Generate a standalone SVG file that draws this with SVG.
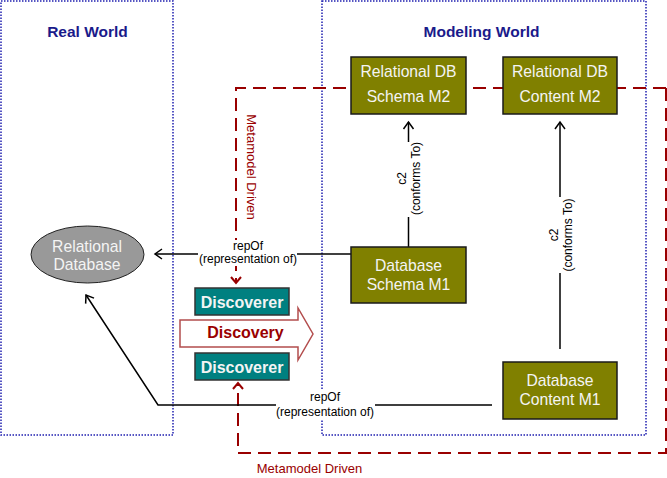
<svg xmlns="http://www.w3.org/2000/svg" width="667" height="478" viewBox="0 0 667 478">
<defs>
<style>
text{font-family:"Liberation Sans",Arial,sans-serif}
.world{fill:none;stroke:#1f1fb0;stroke-width:1.5;stroke-dasharray:1.5,1.5}
.title{font-size:15.5px;font-weight:bold;fill:#1a1a8a;text-anchor:middle}
.olive{fill:#808000;stroke:#1a1a1a;stroke-width:1.5}
.oltext{font-size:15.7px;fill:#f4f4f4;text-anchor:middle}
.teal{fill:#008080;stroke:#333;stroke-width:1.5}
.tltext{font-size:16px;font-weight:bold;fill:#f4f4f4;text-anchor:middle}
.conn{fill:none;stroke:#000;stroke-width:1.5}
.red{fill:none;stroke:#990000;stroke-width:2;stroke-dasharray:13,7}
.lbl{font-size:12px;fill:#000;text-anchor:middle}
.redlbl{font-size:13px;fill:#990000;text-anchor:middle}
.bg{fill:#fff;stroke:none}
</style>
<marker id="ah" markerUnits="userSpaceOnUse" markerWidth="20" markerHeight="20" refX="0" refY="0" viewBox="-10 -10 20 20" orient="auto" overflow="visible">
<path d="M-7,-5 L0,0 L-7,5" fill="none" stroke="#000" stroke-width="1.5"/>
</marker>
<marker id="ahr" markerUnits="userSpaceOnUse" markerWidth="20" markerHeight="20" refX="0" refY="0" viewBox="-10 -10 20 20" orient="auto" overflow="visible">
<path d="M-6,-5 L0,0 L-6,5" fill="none" stroke="#990000" stroke-width="2"/>
</marker>
</defs>
<rect x="0" y="0" width="667" height="478" fill="#fff"/>

<g id="real-world">
<rect class="world" x="1" y="1" width="172" height="434"/>
<text class="title" x="87.5" y="37">Real World</text>
</g>
<g id="modeling-world">
<rect class="world" x="322" y="1" width="324" height="434"/>
<text class="title" x="481.5" y="37">Modeling World</text>
</g>

<g id="connectors">
<path class="red" d="M666,88 L236,88 L236,283" marker-end="url(#ahr)"/>
<path class="red" d="M666,88 L666,453 L238,453 L238,383" marker-end="url(#ahr)"/>
<path class="conn" d="M351,254 L155,254" marker-end="url(#ah)"/>
<path class="conn" d="M492,405 L158,405 L86,295" marker-end="url(#ah)"/>
<path class="conn" d="M408.5,247 L408.5,122" marker-end="url(#ah)"/>
<path class="conn" d="M560,349 L560,122" marker-end="url(#ah)"/>
<rect class="bg" x="198" y="240" width="99" height="26"/>
<text class="lbl" x="248" y="250">repOf</text>
<text class="lbl" x="248" y="263">(representation of)</text>
<rect class="bg" x="276" y="389" width="99" height="30"/>
<text class="lbl" x="325" y="401">repOf</text>
<text class="lbl" x="325" y="415.5">(representation of)</text>
<rect class="bg" x="396" y="142" width="28" height="75"/>
<g transform="translate(0,178.5) rotate(-90)">
<text class="lbl" x="0" y="406">c2</text>
<text class="lbl" x="0" y="420">(conforms To)</text>
</g>
<rect class="bg" x="547" y="197" width="28" height="76"/>
<g transform="translate(0,235) rotate(-90)">
<text class="lbl" x="0" y="557.5">c2</text>
<text class="lbl" x="0" y="571.5">(conforms To)</text>
</g>
<text class="redlbl" transform="translate(247,167) rotate(90)" x="0" y="0">Metamodel Driven</text>
<text class="redlbl" x="309.5" y="473">Metamodel Driven</text>
</g>

<g id="relational-database">
<ellipse cx="87.5" cy="254.5" rx="56.5" ry="28.5" fill="#999" stroke="#222" stroke-width="1"/>
<text class="oltext" x="87" y="251.5">Relational</text>
<text class="oltext" x="87" y="270">Database</text>
</g>

<g id="schema-m2">
<rect class="olive" x="351" y="57" width="115" height="57"/>
<text class="oltext" x="408.5" y="76.5">Relational DB</text>
<text class="oltext" x="408.5" y="102">Schema M2</text>
</g>
<g id="content-m2">
<rect class="olive" x="503" y="57" width="114" height="57"/>
<text class="oltext" x="560" y="76.5">Relational DB</text>
<text class="oltext" x="560" y="102">Content M2</text>
</g>
<g id="schema-m1">
<rect class="olive" x="351" y="247" width="115" height="56"/>
<text class="oltext" x="408.5" y="270.5">Database</text>
<text class="oltext" x="408.5" y="289.5">Schema M1</text>
</g>
<g id="content-m1">
<rect class="olive" x="503" y="362" width="114" height="57"/>
<text class="oltext" x="560" y="385.5">Database</text>
<text class="oltext" x="560" y="404.5">Content M1</text>
</g>

<g id="discovery">
<path d="M180,320 L298,320 L298,308 L313,334 L298,360 L298,347 L180,347 Z" fill="#fff" stroke="#b34d4d" stroke-width="1.5"/>
<text x="245.5" y="338" font-size="16" font-weight="bold" fill="#990000" text-anchor="middle">Discovery</text>
</g>
<g id="discoverer-top">
<rect class="teal" x="195" y="288" width="94" height="27"/>
<text class="tltext" x="242" y="308">Discoverer</text>
</g>
<g id="discoverer-bottom">
<rect class="teal" x="195" y="353" width="94" height="27"/>
<text class="tltext" x="242" y="372.5">Discoverer</text>
</g>
</svg>
